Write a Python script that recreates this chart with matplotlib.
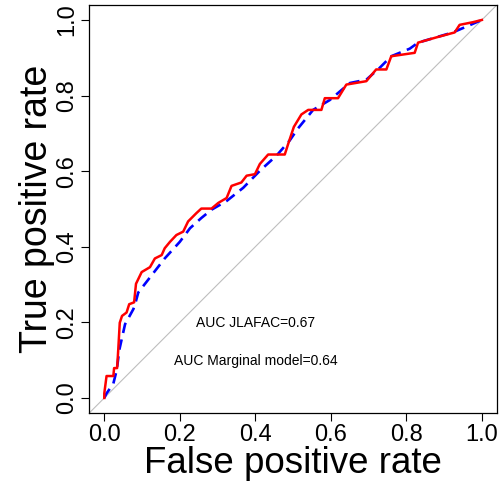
import numpy as np
import matplotlib
matplotlib.use("Agg")
from matplotlib import pyplot as plt

# ROC curve: JLAFAC model (red, solid)
fpr_jlafac = [0.0, 0.0, 0.006, 0.024, 0.026, 0.034, 0.037, 0.041, 0.047, 0.059,
              0.066, 0.079, 0.084, 0.099, 0.121, 0.134, 0.152, 0.160, 0.174,
              0.191, 0.209, 0.222, 0.244, 0.257, 0.284, 0.302, 0.324, 0.337,
              0.363, 0.377, 0.399, 0.412, 0.434, 0.478, 0.487, 0.502, 0.522,
              0.540, 0.575, 0.584, 0.619, 0.641, 0.694, 0.720, 0.747, 0.760,
              0.822, 0.831, 0.880, 0.928, 0.941, 0.976, 1.0]
tpr_jlafac = [0.0, 0.012, 0.058, 0.058, 0.079, 0.079, 0.128, 0.199, 0.217, 0.226,
              0.248, 0.253, 0.302, 0.333, 0.346, 0.369, 0.378, 0.396, 0.413,
              0.431, 0.440, 0.467, 0.489, 0.501, 0.501, 0.516, 0.529, 0.561,
              0.570, 0.588, 0.592, 0.619, 0.644, 0.644, 0.672, 0.717, 0.750,
              0.762, 0.762, 0.793, 0.793, 0.829, 0.838, 0.869, 0.869, 0.904,
              0.913, 0.940, 0.954, 0.967, 0.987, 0.994, 1.0]

# marginal model (blue, dashed)
fpr_marg = [0.0, 0.006, 0.024, 0.033, 0.040, 0.055, 0.077, 0.083, 0.090, 0.125,
            0.160, 0.200, 0.227, 0.257, 0.284, 0.324, 0.368, 0.412, 0.456,
            0.491, 0.513, 0.553, 0.597, 0.650, 0.694, 0.729, 0.760, 0.809,
            0.831, 0.923, 1.0]
tpr_marg = [0.0, 0.012, 0.038, 0.074, 0.128, 0.195, 0.235, 0.253, 0.279, 0.324,
            0.369, 0.413, 0.449, 0.476, 0.498, 0.521, 0.556, 0.601, 0.641,
            0.681, 0.713, 0.762, 0.788, 0.833, 0.842, 0.873, 0.904, 0.924,
            0.940, 0.967, 1.0]

auc_labels = ["AUC JLAFAC=0.67", "AUC Marginal model=0.64"]
ticks = [0.0, 0.2, 0.4, 0.6, 0.8, 1.0]

plt.rcParams["font.family"] = ["Liberation Sans", "DejaVu Sans"]

fig = plt.figure(figsize=(5.01, 4.82), dpi=100)
ax = fig.add_axes([0.178, 0.143, 0.814, 0.847])

# reference diagonal
ax.plot([-0.1, 1.1], [-0.1, 1.1], color="#bebebe", lw=0.8)
ax.plot(fpr_marg, tpr_marg, color="blue", lw=1.9, linestyle=(0, (4, 2.5)))
ax.plot(fpr_jlafac, tpr_jlafac, color="red", lw=1.8)

ax.text(0.4, 0.197, auc_labels[0], ha="center", va="center", fontsize=10)
ax.text(0.4, 0.099, auc_labels[1], ha="center", va="center", fontsize=10)

ax.set_xlim(-0.04, 1.04)
ax.set_ylim(-0.04, 1.04)
ax.set_xticks(ticks)
ax.set_yticks(ticks)
ax.set_xticklabels(["%.1f" % t for t in ticks], fontsize=17)
ax.set_yticklabels(["%.1f" % t for t in ticks], fontsize=17, rotation=90, va="center")
ax.tick_params(direction="out", length=6, width=0.8, pad=2)
for s in ax.spines.values():
    s.set_linewidth(0.9)

ax.set_xlabel("False positive rate", fontsize=26.5, labelpad=0)
ax.set_ylabel("True positive rate", fontsize=27, labelpad=1)

fig.savefig("out.png", dpi=100)
